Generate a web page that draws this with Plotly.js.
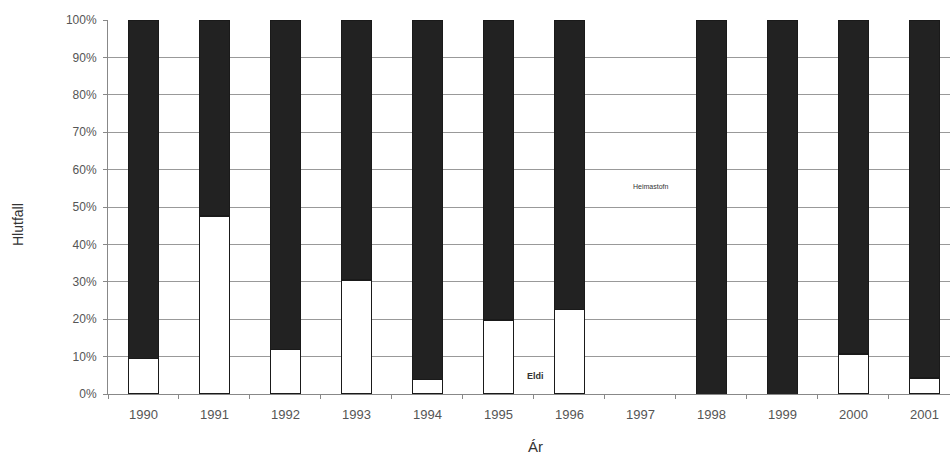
<!DOCTYPE html>
<html>
<head>
<meta charset="utf-8">
<script src="https://cdn.plot.ly/plotly-3.0.1.min.js"></script>
<style>html,body{margin:0;padding:0;background:#fff;}#chart{width:950px;height:455px;}</style>
</head>
<body>
<div id="chart"></div>
<script>
const years = ['1990','1991','1992','1993','1994','1995','1996','1997','1998','1999','2000','2001'];
const eldi = [9.6, 47.6, 12, 30.5, 4, 19.8, 22.7, null, 0, 0, 10.7, 4.3];
const heimastofn = [90.4, 52.4, 88, 69.5, 96, 80.2, 77.3, null, 100, 100, 89.3, 95.7];
const yTicks = [0,10,20,30,40,50,60,70,80,90,100];
const yTickText = yTicks.map(v => v + '%');

const font = 'Liberation Sans, Arial, sans-serif';
const traces = [
  {type:'bar', name:'Eldi', x: years, y: eldi, width:0.42,
   marker:{color:'#ffffff', line:{color:'#1a1a1a', width:1.5}}},
  {type:'bar', name:'Heimastofn', x: years, y: heimastofn, width:0.42,
   marker:{color:'#222222', line:{color:'#1a1a1a', width:1}}}
];
const layout = {
  width:950, height:455,
  margin:{l:108, r:0, t:20, b:61},
  barmode:'stack',
  showlegend:false,
  paper_bgcolor:'#fff', plot_bgcolor:'#fff',
  font:{family:font, color:'#555'},
  xaxis:{type:'category', range:[-0.5, 11.36], tickson:'boundaries', ticks:'outside', ticklen:4,
         tickcolor:'#888', showline:true, linecolor:'#888', showgrid:false,
         tickfont:{size:13, color:'#555'}, ticklabelstandoff:8},
  yaxis:{range:[0,100], tickvals:yTicks, ticktext:yTickText, ticks:'outside', ticklen:4,
         tickcolor:'#888', showline:true, linecolor:'#888', gridcolor:'#999', gridwidth:1,
         zeroline:false, tickfont:{size:12, color:'#555'}, ticklabelstandoff:4},
  annotations:[
    {x:7.15, y:55.6, xref:'x', yref:'y', text:'Heimastofn', showarrow:false,
     font:{size:7, color:'#333', family:font}},
    {x:5.52, y:4.8, xref:'x', yref:'y', text:'<b>Eldi</b>', showarrow:false,
     font:{size:9, color:'#333', family:font}},
    {x:535, y:447, xref:'paper', yref:'paper', text:'Ár', showarrow:false,
     font:{size:15, color:'#333', family:font}, xanchor:'center', yanchor:'middle'},
    {x:18, y:225, text:'Hlutfall', showarrow:false, textangle:-90,
     font:{size:14, color:'#333', family:font}, xanchor:'center', yanchor:'middle'}
  ]
};
// convert pixel-positioned titles to paper coordinates
const pw = 950 - 108 - 0, ph = 455 - 20 - 61;
layout.annotations[2].x = (535 - 108) / pw; layout.annotations[2].y = (455 - 61 - 447) / ph;
layout.annotations[3].xref = 'paper'; layout.annotations[3].yref = 'paper';
layout.annotations[3].x = (18 - 108) / pw; layout.annotations[3].y = (455 - 61 - 225) / ph;
Plotly.newPlot('chart', traces, layout, {displayModeBar:false, staticPlot:true});
</script>
</body>
</html>
